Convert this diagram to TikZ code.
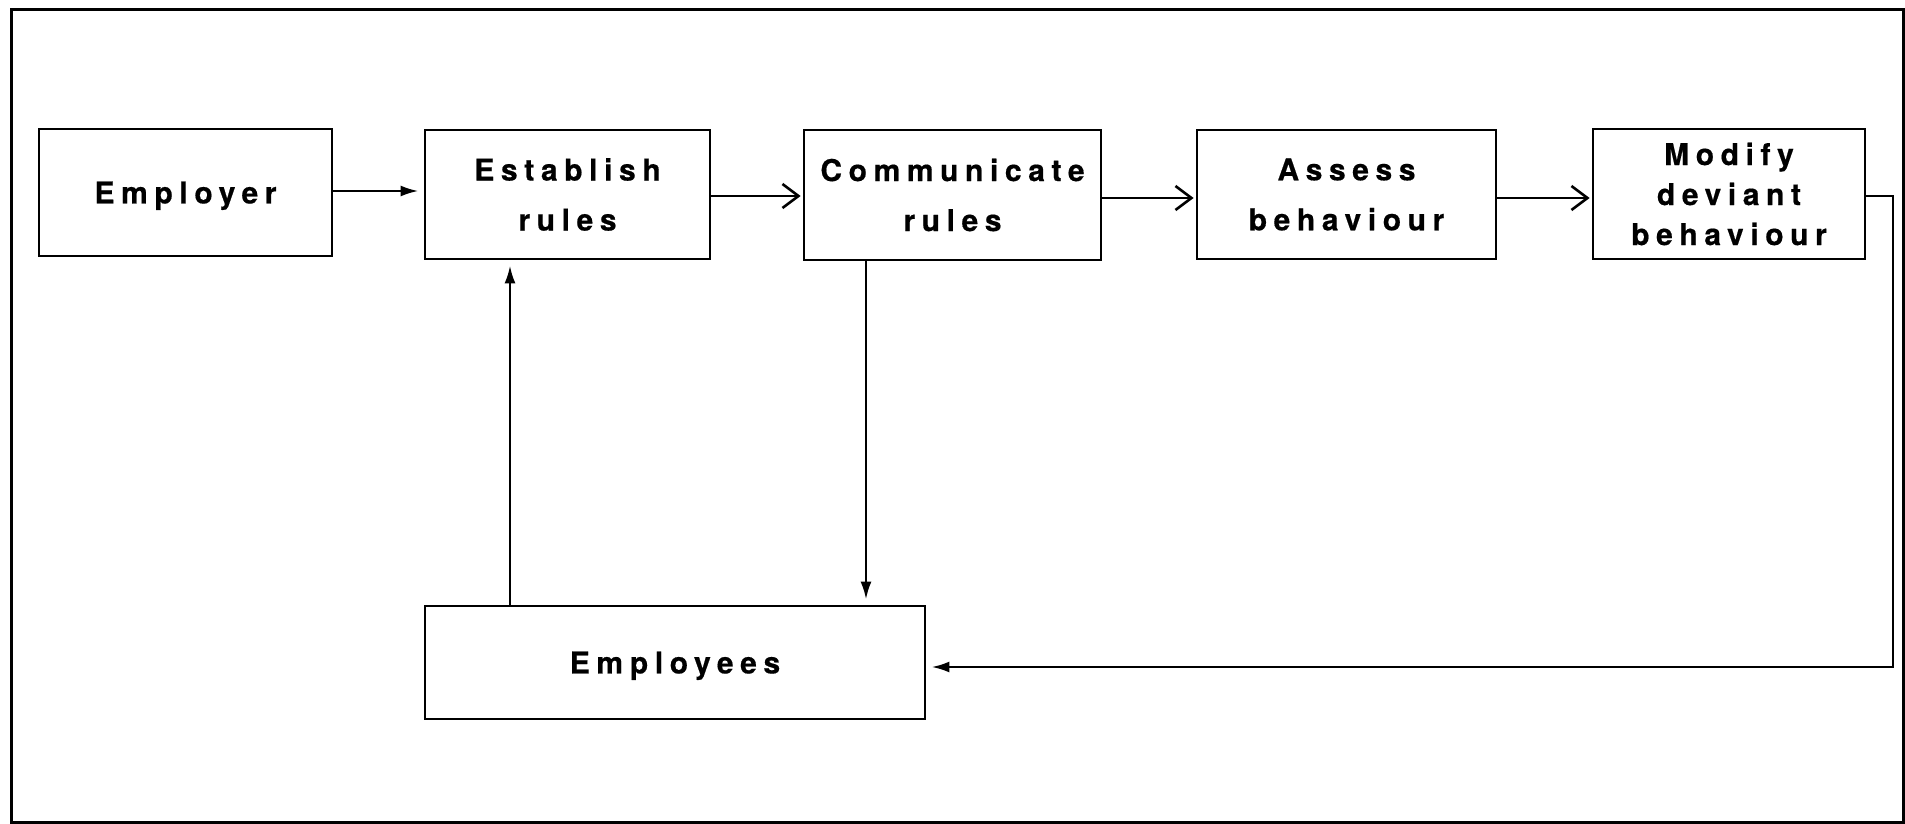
\documentclass[tikz,border=0pt]{standalone}
\usepackage{fontspec}
\newfontfamily\labelfont[LetterSpace=22,FakeBold=0.5]{TeX Gyre Heros}
\usetikzlibrary{arrows.meta}

\tikzset{
  stagebox/.style={draw, line width=2.8pt, rectangle, align=center,
    font=\labelfont\bfseries\fontsize{30}{50}\selectfont, inner sep=0pt},
  oneline/.style={text depth=0pt},
  flow/.style={line width=2.6pt},
  openhead/.style={flow, -{Straight Barb[length=16pt,width=24pt,line width=2.6pt]}, shorten >=2pt},
  solidhead/.style={flow, -{Latex[length=18pt,width=11pt]}, shorten >=5pt},
}

\begin{document}
\begin{tikzpicture}[x=1pt,y=-1pt]
  \useasboundingbox (0,0) rectangle (1905,824);
  \draw[line width=3pt] (11,10) rectangle (1903,822);

  % stages of the process
  \node[stagebox, oneline, minimum width=293pt, minimum height=127pt] (employer) at (185.5,192.5) {Employer};
  \node[stagebox, minimum width=285pt, minimum height=129pt] (establish) at (567.5,194.5) {Establish\\rules};
  \node[stagebox, minimum width=297pt, minimum height=130pt] (communicate) at (952.5,195) {Communicate\\rules};
  \node[stagebox, minimum width=299pt, minimum height=129pt] (assess) at (1346.5,194.5) {Assess\\behaviour};
  \node[stagebox, minimum width=272pt, minimum height=130pt,
        font=\labelfont\bfseries\fontsize{30}{40}\selectfont] (modify) at (1729,194) {Modify\\deviant\\behaviour};
  \node[stagebox, oneline, minimum width=500pt, minimum height=113pt] (employees) at (675,662.5) {Employees};

  % routing columns and rows
  \coordinate (downx) at (866,0);
  \coordinate (upx) at (510,0);
  \coordinate (loopx) at (1893,0);
  \coordinate (row1) at (0,191);
  \coordinate (row2) at (0,196);
  \coordinate (row3) at (0,198);
  \coordinate (loopy) at (0,667);

  % main chain
  \draw[solidhead] (employer.east |- row1) -- (establish.west |- row1);
  \draw[openhead] (establish.east |- row2) -- (communicate.west |- row2);
  \draw[openhead] (communicate.east |- row3) -- (assess.west |- row3);
  \draw[openhead] (assess.east |- row3) -- (modify.west |- row3);

  % feedback through the employees
  \draw[solidhead] (modify.east |- row2) -- (loopx |- row2) -- (loopx |- loopy) -- (employees.east |- loopy);
  \draw[solidhead] (communicate.south -| downx) -- (employees.north -| downx);
  \draw[solidhead] (employees.north -| upx) -- (establish.south -| upx);
\end{tikzpicture}
\end{document}
